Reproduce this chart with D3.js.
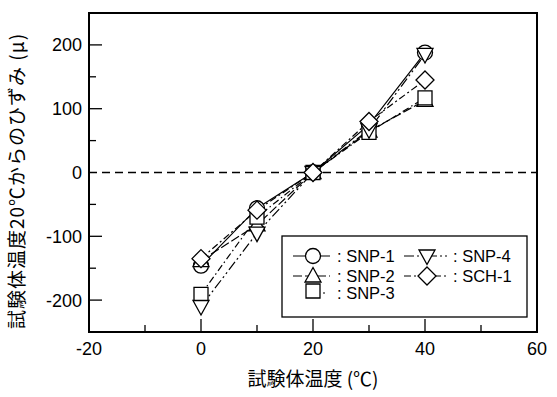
<!DOCTYPE html>
<html>
<head>
<meta charset="utf-8">
<script src="https://cdn.jsdelivr.net/npm/d3@7"></script>
<style>
  body { margin: 0; background: #fff; }
  text { font-family: "Liberation Sans", Arial, sans-serif; }
</style>
</head>
<body>
<svg id="chart" width="557" height="397"></svg>
<script>
var temps = [0, 10, 20, 30, 40];
var seriesNames = ["SNP-1", "SNP-2", "SNP-3", "SNP-4", "SCH-1"];
var snp1 = [-146, -56, 0, 75, 188];
var snp2 = [-138, -82, 0, 65, 113];
var snp3 = [-191, -70, 0, 63, 117];
var snp4 = [-210, -95, 0, 67, 185];
var sch1 = [-135, -59, 0, 80, 145];
var xTicks = [-20, 0, 20, 40, 60];
var yTicks = [-200, -100, 0, 100, 200];

var values = [snp1, snp2, snp3, snp4, sch1];
var markers = ["circle", "triangleUp", "square", "triangleDown", "diamond"];
var dashes = [null, "9,3", "7,3,1.5,3", "10,3,2,3,2,3", "7,3,2,3"];

var svg = d3.select("#chart"),
    margin = {top: 13, right: 20, bottom: 65, left: 89};
var width = 557 - margin.left - margin.right,
    height = 397 - margin.top - margin.bottom;

var x = d3.scaleLinear().domain([-20, 60]).range([0, width]);
var y = d3.scaleLinear().domain([-250, 250]).range([height, 0]);

var g = svg.append("g").attr("transform", "translate(" + margin.left + "," + margin.top + ")");

// zero line
g.append("line")
    .attr("x1", 0).attr("x2", width)
    .attr("y1", y(0)).attr("y2", y(0))
    .attr("stroke", "#000").attr("stroke-width", 1.5)
    .attr("stroke-dasharray", "8,5");

// ticks (inward)
function tickLines(vals, len, axis) {
  vals.forEach(function(v) {
    if (axis === "x") {
      g.append("line").attr("x1", x(v)).attr("x2", x(v)).attr("y1", height).attr("y2", height - len)
        .attr("stroke", "#000").attr("stroke-width", 1.3);
    } else {
      g.append("line").attr("x1", 0).attr("x2", len).attr("y1", y(v)).attr("y2", y(v))
        .attr("stroke", "#000").attr("stroke-width", 1.3);
    }
  });
}
tickLines(d3.range(-10, 60, 20), 7, "x");
tickLines([0, 20, 40], 13, "x");
tickLines(d3.range(-150, 250, 100), 7, "y");
tickLines([-200, -100, 100, 200], 13, "y");

g.append("rect")
    .attr("width", width).attr("height", height)
    .attr("fill", "none").attr("stroke", "#000").attr("stroke-width", 2);

g.selectAll(".xt").data(xTicks).enter().append("text")
    .attr("x", function(d) { return x(d); })
    .attr("y", height + 23)
    .attr("text-anchor", "middle")
    .attr("font-size", 18)
    .text(function(d) { return d; });

g.selectAll(".yt").data(yTicks).enter().append("text")
    .attr("x", -7)
    .attr("y", function(d) { return y(d); })
    .attr("dy", "0.36em")
    .attr("text-anchor", "end")
    .attr("font-size", 18)
    .text(function(d) { return d; });

svg.append("text")
    .attr("x", margin.left + x(20))
    .attr("y", 386)
    .attr("text-anchor", "middle")
    .attr("font-size", 19)
    .style("font-family", "'Noto Sans CJK JP', sans-serif")
    .text("試験体温度 (℃)");

svg.append("text")
    .attr("transform", "translate(24,181) rotate(-90)")
    .attr("text-anchor", "middle")
    .attr("font-size", 19)
    .attr("letter-spacing", 1)
    .style("font-family", "'Noto Sans CJK JP', sans-serif")
    .text("試験体温度20℃からのひずみ (μ)");

function drawMarker(sel, type, cx, cy) {
  var p;
  if (type === "circle") {
    sel.append("circle").attr("cx", cx).attr("cy", cy).attr("r", 7.5)
      .attr("fill", "#fff").attr("stroke", "#000").attr("stroke-width", 1.3);
    return;
  }
  if (type === "square") p = [[cx - 7, cy - 7], [cx + 7, cy - 7], [cx + 7, cy + 7], [cx - 7, cy + 7]];
  if (type === "triangleUp") p = [[cx, cy - 8.5], [cx + 8, cy + 6], [cx - 8, cy + 6]];
  if (type === "triangleDown") p = [[cx, cy + 8.5], [cx + 8, cy - 6], [cx - 8, cy - 6]];
  if (type === "diamond") p = [[cx, cy - 9], [cx + 9, cy], [cx, cy + 9], [cx - 9, cy]];
  sel.append("polygon").attr("points", p.map(function(q) { return q.join(","); }).join(" "))
    .attr("fill", "#fff").attr("stroke", "#000").attr("stroke-width", 1.3);
}

var line = d3.line().x(function(d, i) { return x(temps[i]); }).y(function(d) { return y(d); });

// lines under, markers on top
var linesG = g.append("g"), marksG = g.append("g");
values.forEach(function(vals, k) {
  linesG.append("path").datum(vals).attr("d", line)
    .attr("fill", "none").attr("stroke", "#000").attr("stroke-width", 1.2)
    .attr("stroke-dasharray", dashes[k]);
  vals.forEach(function(v, i) { drawMarker(marksG, markers[k], x(temps[i]), y(v)); });
});

// legend
var lg = svg.append("g");
lg.append("rect").attr("x", 282).attr("y", 236).attr("width", 245).attr("height", 81)
    .attr("fill", "#fff").attr("stroke", "#000").attr("stroke-width", 1.3);
var legendPos = [[293, 256, 37, 313, 337], [293, 276, 37, 313, 337], [293, 293, 37, 313, 337],
                 [404, 256, 45, 427, 453], [404, 276, 45, 427, 453]];
seriesNames.forEach(function(name, k) {
  var p = legendPos[k];
  if (k !== 2) {
    lg.append("line").attr("x1", p[0]).attr("x2", p[0] + p[2]).attr("y1", p[1]).attr("y2", p[1])
      .attr("stroke", "#000").attr("stroke-width", 1.2).attr("stroke-dasharray", dashes[k]);
  } else {
    lg.append("line").attr("x1", p[0] + 30).attr("x2", p[0] + 32).attr("y1", p[1]).attr("y2", p[1])
      .attr("stroke", "#000").attr("stroke-width", 1.2);
  }
  drawMarker(lg, markers[k], p[3], p[1] - (k === 2 ? 2 : 0));
  lg.append("text").attr("x", p[4]).attr("y", p[1]).attr("dy", "0.36em")
    .attr("font-size", 16.5).text(": " + name);
});
</script>
</body>
</html>
